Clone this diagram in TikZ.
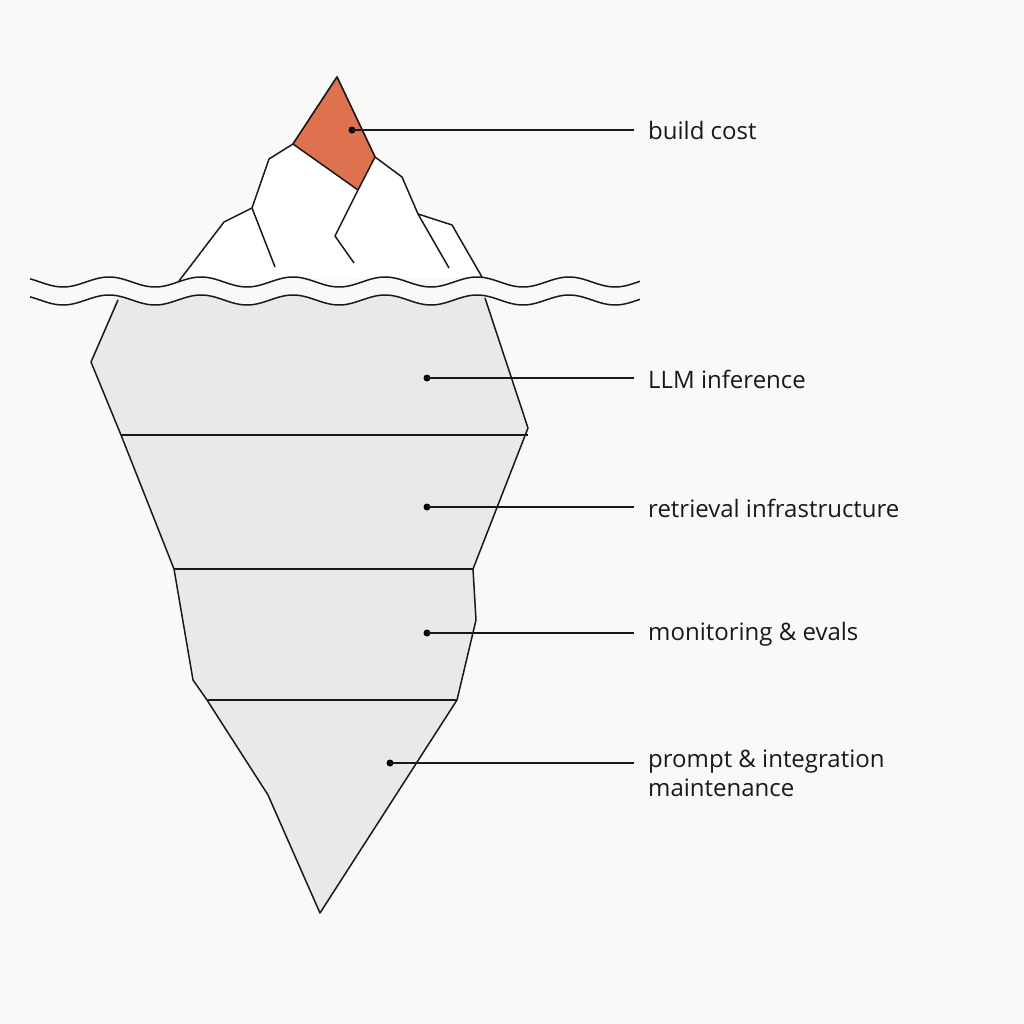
\documentclass[tikz,border=0pt]{standalone}
\usepackage{fontspec}
\setmainfont{Open Sans}
\begin{document}
\begin{tikzpicture}[x=1pt,y=-1pt,line join=round,
  ln/.style={draw=black!90,line width=1.5pt},
  lead/.style={draw=black!90,line width=1.2pt},
  dot/.style={circle,fill=black,inner sep=0pt,minimum size=7pt},
  lbl/.style={anchor=west,font=\fontsize{24}{29}\selectfont,text=black!90,align=left,inner sep=0pt}]
\fill[fill={rgb,255:red,249;green,249;blue,247}] (0,0) rectangle (1024,1024);
\useasboundingbox (0,0) rectangle (1024,1024);
% underwater body
\path[fill={rgb,255:red,233;green,233;blue,233}] (118,295) -- (91,362) -- (121,435) -- (174,569) -- (193,680) -- (207,700) -- (268,795) -- (320,913) -- (457,700) -- (476,620) -- (473,569) -- (528,428) -- (485,295) -- cycle;
\draw[ln] (118,300) -- (91,362) -- (121,435) -- (174,569) -- (193,680) -- (207,700) -- (268,795) -- (320,913) -- (457,700) -- (476,620) -- (473,569) -- (528,428) -- (485,298);
\draw[ln] (121,435) -- (528,435);
\draw[ln] (174,569) -- (473,569);
\draw[ln] (207,700) -- (457,700);
% above water
\fill[fill=white] (179,281) -- (224,222) -- (252,208) -- (269,159) -- (293,144) -- (337,77) -- (375,157) -- (402,177) -- (418,214) -- (452,225) -- (482,277) -- cycle;
\draw[ln] (179,281) -- (224,222) -- (252,208) -- (269,159) -- (293,144) -- (337,77) -- (375,157) -- (402,177) -- (418,214) -- (452,225) -- (482,277);
\draw[ln,fill={rgb,255:red,222;green,114;blue,78}] (293,144) -- (337,77) -- (375,157) -- (358,190) -- cycle;
\draw[ln] (252,208) -- (275,267);
\draw[ln] (358,190) -- (335,236) -- (354,263);
\draw[ln] (418,214) -- (449,268);
% waves
\fill[fill={rgb,255:red,249;green,249;blue,247}] plot[domain=30:640,samples=200] (\x,{282+5*cos(3.913*(\x-155))}) -- plot[domain=640:30,samples=200] (\x,{300+5*cos(3.913*(\x-155))}) -- cycle;
\draw[ln] plot[domain=30:640,samples=200,smooth] (\x,{282+5*cos(3.913*(\x-155))});
\draw[ln] plot[domain=30:640,samples=200,smooth] (\x,{300+5*cos(3.913*(\x-155))});
% labels
\node[dot] (d1) at (352,130) {};
\node[dot] (d2) at (427,378) {};
\node[dot] (d3) at (427,507) {};
\node[dot] (d4) at (427,633) {};
\node[dot] (d5) at (390,763) {};
\coordinate (e1) at (634,130);
\coordinate (e2) at (634,378);
\coordinate (e3) at (634,507);
\coordinate (e4) at (634,633);
\coordinate (e5) at (634,763);
\draw[lead] (d1.center) -- (e1);
\draw[lead] (d2.center) -- (e2);
\draw[lead] (d3.center) -- (e3);
\draw[lead] (d4.center) -- (e4);
\draw[lead] (d5.center) -- (e5);
\node[lbl] (t1) at (648,131) {build cost};
\node[lbl] (t2) at (648,379) {LLM inference};
\node[lbl] (t3) at (648,508) {retrieval infrastructure};
\node[lbl] (t4) at (648,634) {monitoring \& evals};
\node[lbl,anchor=north west] (t5) at (648,750) {prompt \& integration\\maintenance};
\end{tikzpicture}
\end{document}
